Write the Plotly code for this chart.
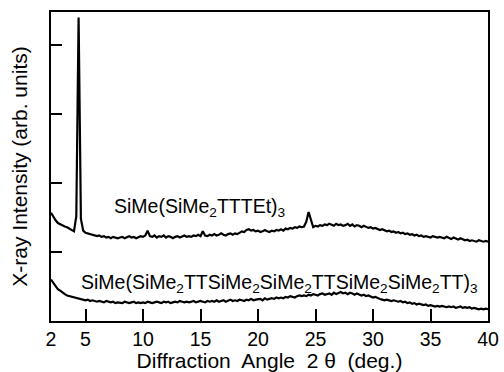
import numpy as np
import plotly.graph_objects as go

# scan grid, 2θ from 2 to 40 deg in 0.2 deg steps
angle = np.round(np.arange(2.0, 40.0001, 0.2), 2)

intensity_upper = [
    1.57, 1.51, 1.46, 1.42, 1.40, 1.39, 1.37, 1.36, 1.34, 1.31,
    1.30, 1.52, 4.40, 1.48, 1.31, 1.28, 1.27, 1.26, 1.25, 1.24,
    1.23, 1.24, 1.22, 1.23, 1.21, 1.22, 1.20, 1.22, 1.21, 1.20,
    1.21, 1.22, 1.20, 1.21, 1.23, 1.21, 1.22, 1.20, 1.22, 1.23,
    1.22, 1.24, 1.31, 1.23, 1.22, 1.24, 1.21, 1.23, 1.22, 1.24,
    1.21, 1.23, 1.22, 1.20, 1.22, 1.23, 1.21, 1.22, 1.24, 1.22,
    1.23, 1.22, 1.24, 1.23, 1.25, 1.23, 1.30, 1.24, 1.23, 1.25,
    1.24, 1.26, 1.24, 1.25, 1.27, 1.25, 1.24, 1.26, 1.27, 1.25,
    1.27, 1.26, 1.28, 1.30, 1.29, 1.32, 1.33, 1.31, 1.32, 1.30,
    1.31, 1.29, 1.30, 1.32, 1.30, 1.29, 1.31, 1.30, 1.32, 1.31,
    1.33, 1.31, 1.34, 1.33, 1.35, 1.34, 1.36, 1.35, 1.37, 1.36,
    1.37, 1.44, 1.58, 1.45, 1.36, 1.38, 1.37, 1.39, 1.38, 1.40,
    1.39, 1.41, 1.40, 1.38, 1.41, 1.39, 1.40, 1.38, 1.39, 1.41,
    1.38, 1.40, 1.37, 1.39, 1.38, 1.36, 1.38, 1.37, 1.35, 1.36,
    1.34, 1.35, 1.33, 1.32, 1.33, 1.31, 1.30, 1.31, 1.29, 1.30,
    1.28, 1.29, 1.27, 1.28, 1.26, 1.27, 1.25, 1.26, 1.24, 1.25,
    1.23, 1.24, 1.22, 1.23, 1.22, 1.21, 1.23, 1.22, 1.21, 1.22,
    1.21, 1.20, 1.22, 1.20, 1.19, 1.21, 1.19, 1.18, 1.20, 1.18,
    1.17, 1.18, 1.16, 1.17, 1.16, 1.15, 1.17, 1.16, 1.15, 1.16,
    1.15,
]

intensity_lower = [
    0.60, 0.55, 0.50, 0.46, 0.44, 0.41, 0.39, 0.37, 0.36, 0.35,
    0.34, 0.33, 0.33, 0.32, 0.31, 0.30, 0.31, 0.29, 0.30, 0.29,
    0.28, 0.29, 0.28, 0.27, 0.29, 0.28, 0.27, 0.28, 0.26, 0.27,
    0.27, 0.26, 0.28, 0.27, 0.26, 0.27, 0.28, 0.26, 0.27, 0.26,
    0.27, 0.26, 0.28, 0.27, 0.26, 0.27, 0.28, 0.27, 0.26, 0.28,
    0.27, 0.28, 0.26, 0.27, 0.28, 0.27, 0.29, 0.28, 0.27, 0.28,
    0.27, 0.28, 0.29, 0.27, 0.28, 0.29, 0.28, 0.27, 0.29, 0.28,
    0.29, 0.28, 0.30, 0.28, 0.29, 0.30, 0.28, 0.29, 0.31, 0.29,
    0.30, 0.29, 0.31, 0.30, 0.29, 0.31, 0.30, 0.32, 0.30, 0.31,
    0.31, 0.32, 0.30, 0.33, 0.31, 0.32, 0.33, 0.32, 0.34, 0.33,
    0.34, 0.33, 0.35, 0.34, 0.36, 0.35, 0.34, 0.36, 0.37, 0.36,
    0.37, 0.36, 0.38, 0.37, 0.39, 0.38, 0.37, 0.39, 0.40, 0.38,
    0.39, 0.40, 0.38, 0.41, 0.39, 0.40, 0.42, 0.40, 0.41, 0.39,
    0.41, 0.40, 0.38, 0.40, 0.39, 0.37, 0.38, 0.36, 0.37, 0.35,
    0.34, 0.35, 0.33, 0.32, 0.31, 0.30, 0.31, 0.30, 0.29, 0.30,
    0.29, 0.28, 0.29, 0.27, 0.28, 0.26, 0.27, 0.25, 0.26, 0.24,
    0.25, 0.24, 0.23, 0.24, 0.22, 0.23, 0.22, 0.21, 0.22, 0.21,
    0.22, 0.21, 0.20, 0.21, 0.20, 0.21, 0.19, 0.20, 0.21, 0.19,
    0.20, 0.19, 0.20, 0.18, 0.19, 0.18, 0.17, 0.18, 0.17, 0.18,
    0.17,
]

x_tick_values = [2, 5, 10, 15, 20, 25, 30, 35, 40]
x_tick_labels = ["2", "5", "10", "15", "20", "25", "30", "35", "40"]
y_tick_values = [1, 2, 3, 4]

label_upper = "SiMe(SiMe<sub>2</sub>TTTEt)<sub>3</sub>"
label_lower = ("SiMe(SiMe<sub>2</sub>TTSiMe<sub>2</sub>SiMe<sub>2</sub>"
               "TTSiMe<sub>2</sub>SiMe<sub>2</sub>TT)<sub>3</sub>")
x_title = "Diffraction&nbsp; Angle&nbsp; 2 θ&nbsp; (deg.)"
y_title = "X-ray Intensity (arb. units)"

FONT = "Liberation Sans, Arial, Helvetica, sans-serif"

fig = go.Figure()
fig.add_trace(go.Scatter(x=angle, y=intensity_upper, mode="lines",
                         line=dict(color="black", width=2.2), showlegend=False))
fig.add_trace(go.Scatter(x=angle, y=intensity_lower, mode="lines",
                         line=dict(color="black", width=2.2), showlegend=False))

fig.add_annotation(x=14.9, y=1.64, text=label_upper, showarrow=False,
                   xanchor="center", yanchor="middle",
                   font=dict(family=FONT, size=19.5, color="black"))
fig.add_annotation(x=21.9, y=0.55, text=label_lower, showarrow=False,
                   xanchor="center", yanchor="middle",
                   font=dict(family=FONT, size=19.5, color="black"))

fig.update_layout(
    width=504, height=372,
    margin=dict(l=51, r=16, t=12, b=51),
    paper_bgcolor="white", plot_bgcolor="white",
    font=dict(family=FONT, color="black"),
    xaxis=dict(range=[2, 40], tickmode="array", tickvals=x_tick_values,
               ticktext=x_tick_labels, ticks="inside", ticklen=12,
               tickwidth=1.5, tickcolor="black", showline=True,
               linecolor="black", linewidth=2, mirror=True, showgrid=False,
               zeroline=False, tickfont=dict(size=19.5), ticklabelstandoff=0,
               automargin=False,
               title=dict(text=x_title, font=dict(size=21), standoff=9)),
    yaxis=dict(range=[0, 4.48], tickmode="array", tickvals=y_tick_values,
               showticklabels=False, ticks="inside", ticklen=11,
               tickwidth=1.5, tickcolor="black", showline=True,
               linecolor="black", linewidth=2, mirror=True, showgrid=False,
               zeroline=False, automargin=False,
               title=dict(text=y_title, font=dict(size=21), standoff=16)),
)

fig.write_html("out.html")
